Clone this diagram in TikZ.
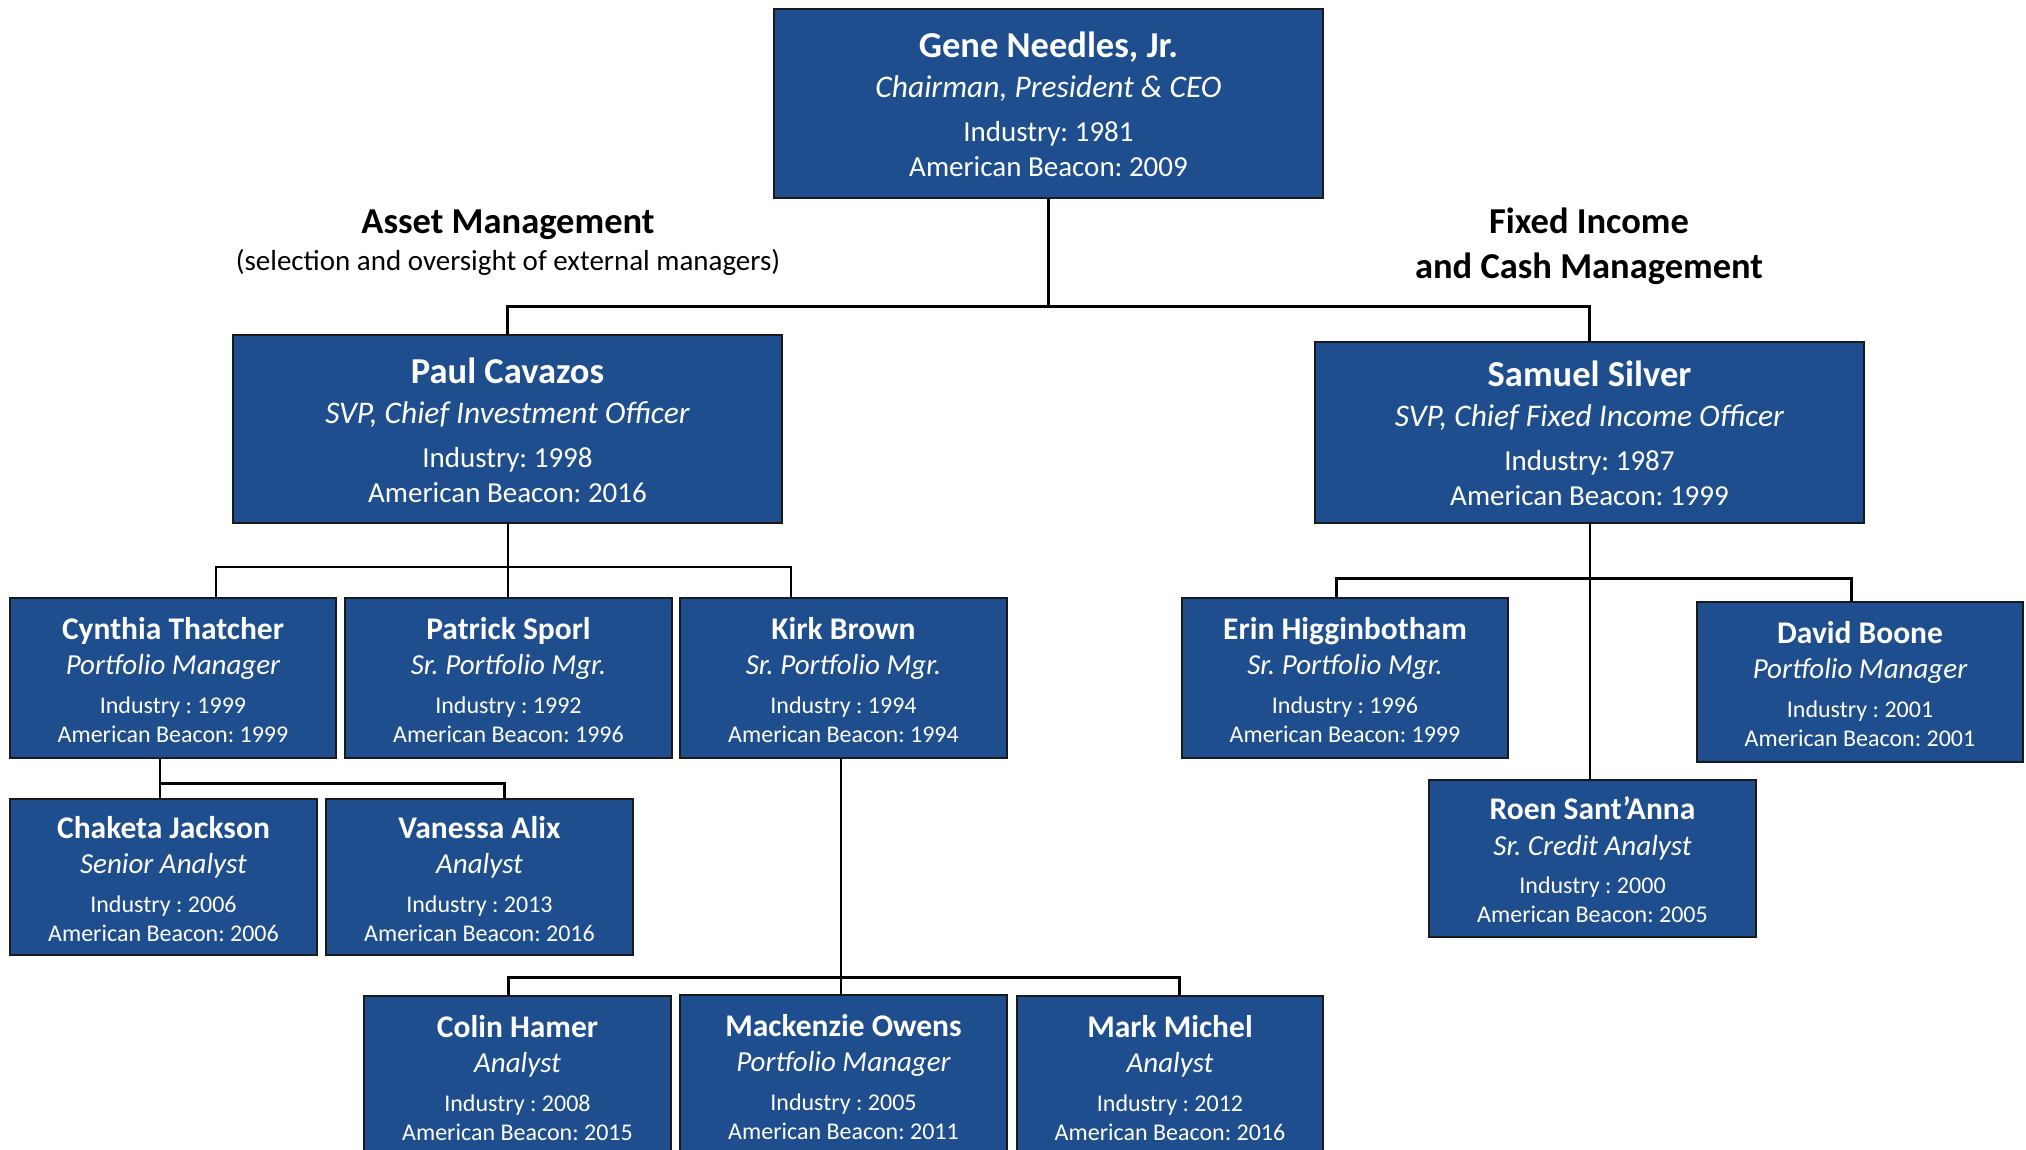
\documentclass[tikz,border=0pt]{standalone}
\usepackage{fontspec}
\setmainfont{Carlito}
\frenchspacing
\definecolor{boxblue}{HTML}{1F4E8E}
\definecolor{boxline}{HTML}{1A1A1A}
\tikzset{
  pbox/.style={draw=boxline, line width=1.5pt, fill=boxblue, inner sep=0pt, outer sep=0pt},
  txt/.style={text=white, inner sep=0pt, anchor=base},
  bn/.style={txt, font=\fontsize{36.5}{40}\selectfont\bfseries},
  bt/.style={txt, font=\fontsize{31.5}{36}\selectfont\itshape},
  bi/.style={txt, font=\fontsize{29}{34}\selectfont},
  sn/.style={txt, font=\fontsize{31.5}{36}\selectfont\bfseries},
  st/.style={txt, font=\fontsize{29}{34}\selectfont\itshape},
  si/.style={txt, font=\fontsize{24}{28}\selectfont},
  head/.style={inner sep=0pt, anchor=base, font=\fontsize{36.5}{40}\selectfont\bfseries},
  subhead/.style={inner sep=0pt, anchor=base, font=\fontsize{29}{34}\selectfont},
  thinln/.style={line width=2pt, black},
  midln/.style={line width=2.4pt, black},
  thickln/.style={line width=3pt, black},
}
% id, cx, cy, w, h, name, title, industry, ab
\newcommand\bigperson[9]{%
  \node[pbox, minimum width=#4pt, minimum height=#5pt] (#1) at (#2,#3) {};
  \node[bn] (#1-n) at (#2,#3-46) {#6};
  \node[bt] (#1-t) at (#2,#3-6) {#7};
  \node[bi] (#1-i) at (#2,#3+38) {#8};
  \node[bi] (#1-a) at (#2,#3+73) {#9};
}
\newcommand\smallperson[9]{%
  \node[pbox, minimum width=#4pt, minimum height=#5pt] (#1) at (#2,#3) {};
  \node[sn] (#1-n) at (#2,#3-39) {#6};
  \node[st] (#1-t) at (#2,#3-3.5) {#7};
  \node[si] (#1-i) at (#2,#3+35) {#8};
  \node[si] (#1-a) at (#2,#3+64) {#9};
}
\begin{document}
\begin{tikzpicture}[x=1pt,y=-1pt]
\clip (0,0) rectangle (2026,1150);
\fill[white] (0,0) rectangle (2026,1150);

% headings
\node[head] (amh) at (508,234) {Asset Management};
\node[subhead] (ams) at (508,271) {(selection and oversight of external managers)};
\node[head] (fih1) at (1589,234) {Fixed Income};
\node[head] (fih2) at (1589,279) {and Cash Management};

% boxes
\bigperson{gene}{1048.5}{103.5}{549}{189}{Gene Needles, Jr.}{Chairman, President \& CEO}{Industry: 1981}{American Beacon: 2009}
\bigperson{paul}{507.5}{429}{549}{188}{Paul Cavazos}{SVP, Chief Investment Officer}{Industry: 1998}{American Beacon: 2016}
\bigperson{samuel}{1589.5}{432.5}{549}{181}{Samuel Silver}{SVP, Chief Fixed Income Officer}{Industry: 1987}{American Beacon: 1999}

\smallperson{cyn}{173}{678}{326}{160}{Cynthia Thatcher}{Portfolio Manager}{Industry : 1999}{American Beacon: 1999}
\smallperson{pat}{508.5}{678}{327}{160}{Patrick Sporl}{Sr. Portfolio Mgr.}{Industry : 1992}{American Beacon: 1996}
\smallperson{kirk}{843.5}{678}{327}{160}{Kirk Brown}{Sr. Portfolio Mgr.}{Industry : 1994}{American Beacon: 1994}
\smallperson{chak}{163.5}{877}{307}{156}{Chaketa Jackson}{Senior Analyst}{Industry : 2006}{American Beacon: 2006}
\smallperson{van}{479.5}{877}{307}{156}{Vanessa Alix}{Analyst}{Industry : 2013}{American Beacon: 2016}
\smallperson{colin}{517.5}{1076}{307}{160}{Colin Hamer}{Analyst}{Industry : 2008}{American Beacon: 2015}
\smallperson{mack}{843.5}{1075}{327}{160}{Mackenzie Owens}{Portfolio Manager}{Industry : 2005}{American Beacon: 2011}
\smallperson{mark}{1170}{1076}{306}{160}{Mark Michel}{Analyst}{Industry : 2012}{American Beacon: 2016}
\smallperson{erin}{1345}{678}{326}{160}{Erin Higginbotham}{Sr. Portfolio Mgr.}{Industry : 1996}{American Beacon: 1999}
\smallperson{david}{1860}{682}{326}{160}{David Boone}{Portfolio Manager}{Industry : 2001}{American Beacon: 2001}
\smallperson{roen}{1592.5}{858.5}{327}{157}{Roen Sant’Anna}{Sr. Credit Analyst}{Industry : 2000}{American Beacon: 2005}

% connectors
\coordinate (j1) at (1048.5,306);
\draw[midln] (gene.south) -- (j1);
\draw[thickln] (paul.north) |- (j1) -| (samuel.north);

\coordinate (j2) at (507.5,567);
\draw[thinln] (paul.south) -- (j2);
\draw[thinln] ([xshift=43pt]cyn.north) |- (j2) -| ([xshift=-52.5pt]kirk.north);
\draw[thinln] (j2) -- (j2 |- pat.north);

\coordinate (j3) at (160,783);
\draw[midln] (j3 |- cyn.south) -- (j3 |- chak.north);
\draw[thickln] (j3) -| ([xshift=24.5pt]van.north);

\coordinate (j4) at (841,977);
\draw[thinln] (j4 |- kirk.south) -- (j4 |- mack.north);
\draw[thickln] ([xshift=-9.5pt]colin.north) |- (j4) -| ([xshift=9pt]mark.north);

\coordinate (j5) at (1589.5,578);
\draw[thinln] (samuel.south) -- (samuel.south |- roen.north);
\draw[thickln] ([xshift=-9pt]erin.north) |- (j5) -| ([xshift=-9pt]david.north);
\end{tikzpicture}
\end{document}
